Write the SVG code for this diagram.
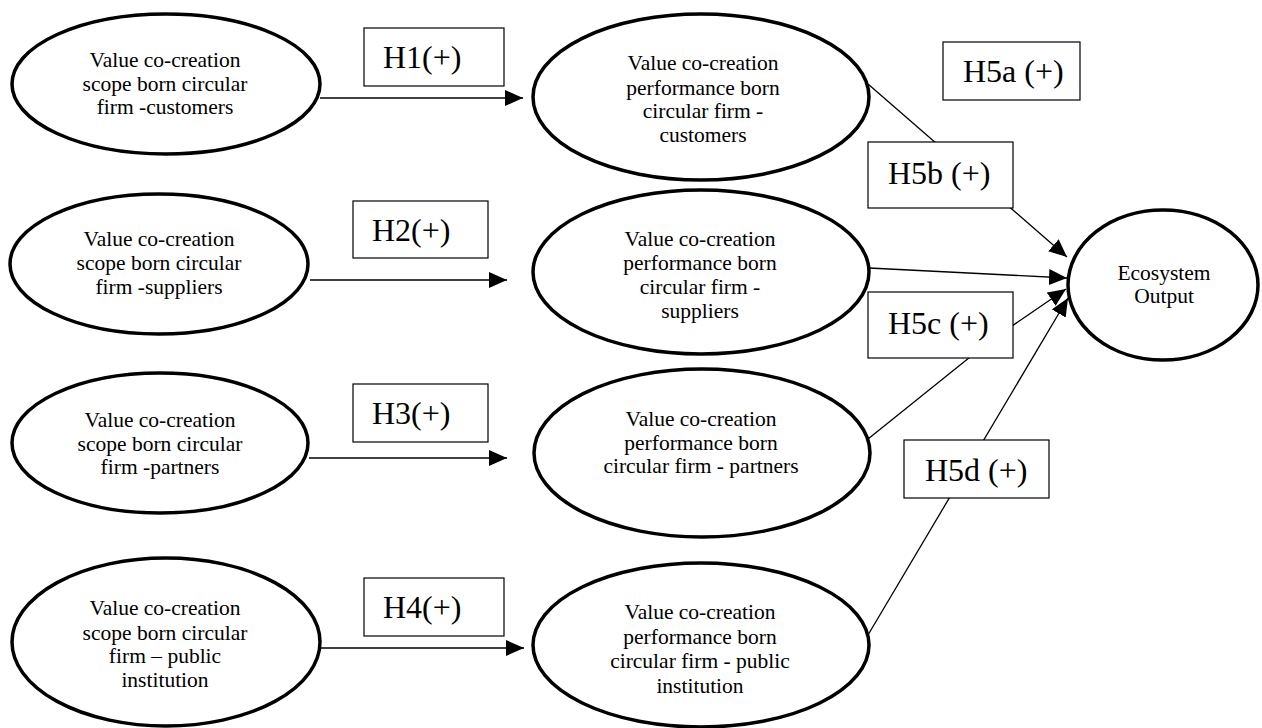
<svg xmlns="http://www.w3.org/2000/svg" width="1262" height="728" viewBox="0 0 1262 728">
  <style>
    .node { fill: #ffffff; stroke: #000000; stroke-width: 3.5; }
    .box { fill: #ffffff; stroke: #000000; stroke-width: 1.2; }
    .lbl { font-family: "Liberation Serif", "Times New Roman", serif; font-size: 21.5px; fill: #000000; text-anchor: middle; }
    .hyp { font-family: "Liberation Serif", "Times New Roman", serif; font-size: 32px; fill: #000000; }
    .edge { fill: none; stroke: #000000; stroke-width: 1.3; }
    .arrow { marker-end: url(#head); }
  </style>
  <defs>
    <marker id="head" markerUnits="userSpaceOnUse" markerWidth="18" markerHeight="16" refX="18" refY="8" orient="auto">
      <path d="M0,0 L18,8 L0,16 z" fill="#000000"/>
    </marker>
  </defs>

  <rect x="0" y="0" width="1262" height="728" fill="#ffffff"/>

  <!-- connectors -->
  <g id="connectors">
    <line class="edge arrow" x1="320" y1="98" x2="523" y2="98"/>
    <line class="edge arrow" x1="310" y1="280" x2="507" y2="280"/>
    <line class="edge arrow" x1="309" y1="458" x2="507" y2="458"/>
    <line class="edge arrow" x1="320" y1="648" x2="524" y2="648"/>
    <line class="edge arrow" x1="868" y1="84" x2="1067" y2="257"/>
    <line class="edge arrow" x1="869" y1="268" x2="1067" y2="278"/>
    <path class="edge arrow" d="M868,439 L990,341 L1066,289"/>
    <line class="edge arrow" x1="868" y1="635" x2="1068" y2="298"/>
  </g>

  <!-- scope constructs -->
  <g id="scope-customers">
    <ellipse class="node" cx="166" cy="84" rx="154" ry="70"/>
    <text class="lbl" x="165" y="67">Value co-creation</text>
    <text class="lbl" x="165" y="91">scope born circular</text>
    <text class="lbl" x="165" y="114">firm -customers</text>
  </g>
  <g id="scope-suppliers">
    <ellipse class="node" cx="159" cy="264" rx="149" ry="70"/>
    <text class="lbl" x="159" y="246">Value co-creation</text>
    <text class="lbl" x="159" y="270">scope born circular</text>
    <text class="lbl" x="159" y="294">firm -suppliers</text>
  </g>
  <g id="scope-partners">
    <ellipse class="node" cx="160" cy="443" rx="148" ry="70"/>
    <text class="lbl" x="160" y="427">Value co-creation</text>
    <text class="lbl" x="160" y="451">scope born circular</text>
    <text class="lbl" x="160" y="474">firm -partners</text>
  </g>
  <g id="scope-public">
    <ellipse class="node" cx="166" cy="642" rx="154" ry="84"/>
    <text class="lbl" x="165" y="615">Value co-creation</text>
    <text class="lbl" x="165" y="640">scope born circular</text>
    <text class="lbl" x="165" y="663">firm – public</text>
    <text class="lbl" x="165" y="687">institution</text>
  </g>

  <!-- performance constructs -->
  <g id="performance-customers">
    <ellipse class="node" cx="701" cy="97" rx="168" ry="83"/>
    <text class="lbl" x="703" y="70">Value co-creation</text>
    <text class="lbl" x="703" y="95">performance born</text>
    <text class="lbl" x="703" y="118">circular firm -</text>
    <text class="lbl" x="703" y="142">customers</text>
  </g>
  <g id="performance-suppliers">
    <ellipse class="node" cx="701" cy="272" rx="168" ry="82"/>
    <text class="lbl" x="700" y="246">Value co-creation</text>
    <text class="lbl" x="700" y="270">performance born</text>
    <text class="lbl" x="700" y="294">circular firm -</text>
    <text class="lbl" x="700" y="318">suppliers</text>
  </g>
  <g id="performance-partners">
    <ellipse class="node" cx="702" cy="453" rx="168" ry="84"/>
    <text class="lbl" x="701" y="426">Value co-creation</text>
    <text class="lbl" x="701" y="450">performance born</text>
    <text class="lbl" x="701" y="473">circular firm - partners</text>
  </g>
  <g id="performance-public">
    <ellipse class="node" cx="701" cy="645" rx="168" ry="82"/>
    <text class="lbl" x="700" y="619">Value co-creation</text>
    <text class="lbl" x="700" y="644">performance born</text>
    <text class="lbl" x="700" y="668">circular firm - public</text>
    <text class="lbl" x="700" y="693">institution</text>
  </g>

  <!-- outcome -->
  <g id="ecosystem-output">
    <ellipse class="node" cx="1163" cy="285" rx="95" ry="75"/>
    <text class="lbl" x="1164" y="280">Ecosystem</text>
    <text class="lbl" x="1164" y="303">Output</text>
  </g>

  <!-- hypothesis labels -->
  <g id="h1">
    <rect class="box" x="364" y="28" width="140" height="58"/>
    <text class="hyp" x="383" y="68">H1(+)</text>
  </g>
  <g id="h2">
    <rect class="box" x="353" y="201" width="135" height="57"/>
    <text class="hyp" x="372" y="241">H2(+)</text>
  </g>
  <g id="h3">
    <rect class="box" x="353" y="384" width="135" height="58"/>
    <text class="hyp" x="372" y="424">H3(+)</text>
  </g>
  <g id="h4">
    <rect class="box" x="364" y="578" width="140" height="58"/>
    <text class="hyp" x="383" y="618">H4(+)</text>
  </g>
  <g id="h5a">
    <rect class="box" x="943" y="42" width="137" height="58"/>
    <text class="hyp" x="963" y="82">H5a (+)</text>
  </g>
  <g id="h5b">
    <rect class="box" x="868" y="142" width="145" height="66"/>
    <text class="hyp" x="888" y="184">H5b (+)</text>
  </g>
  <g id="h5c">
    <rect class="box" x="868" y="292" width="145" height="66"/>
    <text class="hyp" x="888" y="334">H5c (+)</text>
  </g>
  <g id="h5d">
    <rect class="box" x="904" y="440" width="145" height="58"/>
    <text class="hyp" x="925" y="481">H5d (+)</text>
  </g>
</svg>
